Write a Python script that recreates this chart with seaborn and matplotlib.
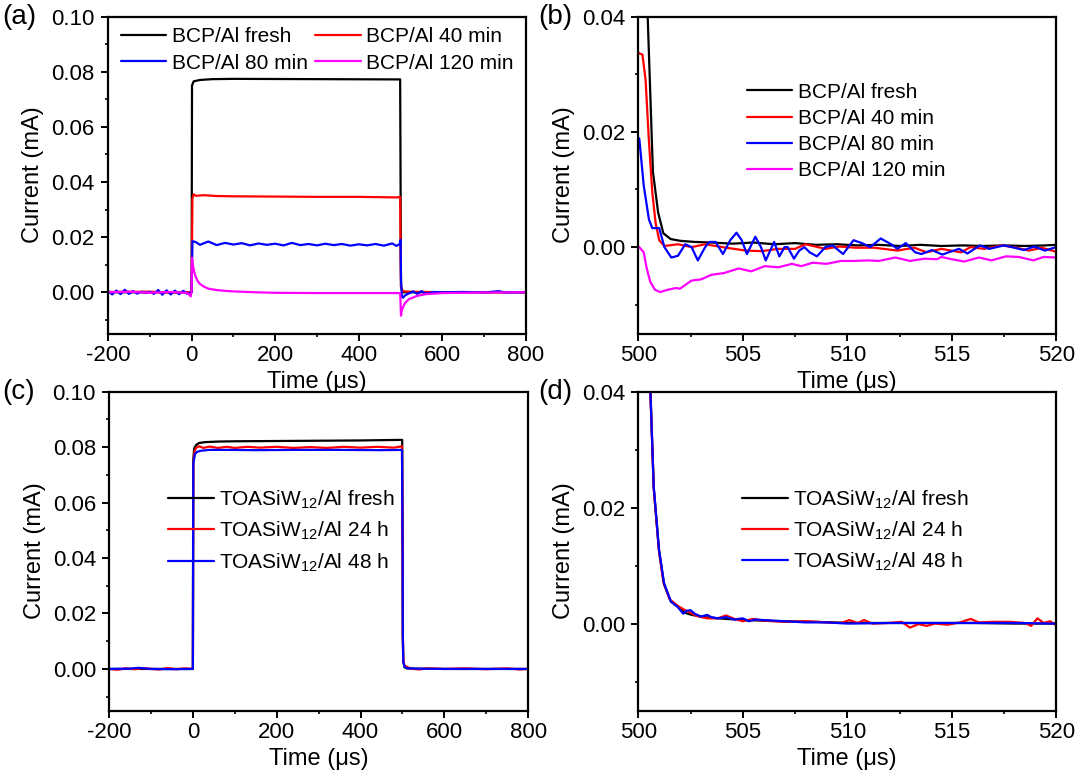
import matplotlib
matplotlib.use("Agg")
import matplotlib.pyplot as plt
from matplotlib.ticker import MultipleLocator, FormatStrFormatter
import pandas as pd
import seaborn as sns

# ---- panel (a): BCP/Al, full pulse ----
labels_bcp = ['BCP/Al fresh', 'BCP/Al 40 min', 'BCP/Al 80 min', 'BCP/Al 120 min']
colors_bcp = ['#000000', '#FF0000', '#0000FF', '#FF00FF']

ta_fresh = [-200, -100, 0, 1, 5, 20, 50, 100, 300, 499, 500, 501, 505, 800]
ia_fresh = [0.0, 0.0, 0.0, 0.075, 0.0765, 0.077, 0.0773, 0.0774, 0.0773, 0.0772, 0.04, 0.002, 0.0, 0.0]

ta_40 = [-200, -100, -50, 0, 2, 5, 10, 30, 60, 100, 200, 300, 400, 490, 499, 500, 501, 505, 520, 600, 800]
ia_40 = [0.0001, 0.0002, -0.0001, 0.0, 0.034, 0.0355, 0.035, 0.0352, 0.0349, 0.0348, 0.0347, 0.0346,
         0.0346, 0.0344, 0.0346, 0.015, 0.002, 0.0004, 0.0002, 0.0, 0.0]

ta_80 = [-200, -190, -180, -170, -160, -150, -140, -130, -120, -110, -100, -90, -80, -70, -60, -50, -40,
         -30, -20, -10, 0, 2, 10, 20, 40, 60, 80, 100, 120, 140, 160, 180, 200, 220, 240, 260, 280, 300,
         320, 340, 360, 380, 400, 420, 440, 460, 480, 490, 498, 500, 501, 503, 506, 510, 520, 530, 540,
         550, 560, 580, 600, 650, 700, 735, 750, 800]
ia_80 = [0.0005, -0.0008, 0.0006, -0.0007, 0.0009, -0.0006, 0.0004, -0.0005, 0.0002, -0.0003, 0.0001,
         -0.0006, 0.0008, -0.0009, 0.0007, -0.0008, 0.0006, -0.0007, 0.0005, -0.0006,
         0.0, 0.0185, 0.0182, 0.0172,
         0.0184, 0.0171, 0.0179, 0.0173, 0.0178, 0.0170, 0.0177, 0.0172, 0.0176, 0.0170, 0.0179, 0.0171,
         0.0175, 0.0170, 0.0176, 0.0171, 0.0175, 0.0169, 0.0174, 0.0170, 0.0175, 0.0169, 0.0177,
         0.0168, 0.0175,
         0.019, 0.005, -0.0015, -0.002, -0.0012, -0.0004, 0.0003, -0.0006, 0.0004, -0.0005,
         0.0001, 0.0, 0.0001, -0.0001, 0.0004, -0.0001, 0.0]

ta_120 = [-200, -150, -100, -50, -10, -2, 0, 1, 3, 6, 10, 15, 20, 30, 40, 60, 80, 100, 150, 200, 300,
          400, 499, 500, 501, 503, 510, 520, 540, 560, 600, 700, 800]
ia_120 = [0.0, 0.0002, -0.0002, 0.0001, -0.0002, -0.0015, 0.0005, 0.0125, 0.010, 0.0075, 0.0055, 0.004,
          0.003, 0.002, 0.0013, 0.0008, 0.0005, 0.0003, 0.0, -0.0002, -0.0003, -0.0003, -0.0003, -0.004,
          -0.0085, -0.0065, -0.004, -0.0025, -0.0013, -0.0007, -0.0003, -0.0001, 0.0]

# ---- panel (b): BCP/Al, falling edge ----
tb_fresh = [500.0, 500.2, 500.35, 500.45, 500.7, 500.95, 501.2, 501.55, 502.0, 502.7, 503.5, 504.5, 505.5,
            506.5, 507.5, 508.5, 509.5, 510.5, 511.5, 512.5, 513.5, 514.5, 515.5, 516.5, 517.5, 518.5,
            519.5, 520]
ib_fresh = [0.077, 0.066, 0.05, 0.04, 0.0131, 0.006, 0.0024, 0.0014, 0.0011, 0.0009, 0.0008, 0.0006,
            0.0008, 0.0005, 0.0007, 0.0004, 0.0005, 0.0003, 0.0004, 0.0002, 0.0004, 0.0002, 0.0003,
            0.0002, 0.0003, 0.0002, 0.0003, 0.0004]

tb_40 = [500.0, 500.05, 500.2, 500.35, 500.5, 500.67, 500.83, 501.0, 501.25, 501.9, 502.55, 503.2, 504.2,
         505.15, 505.9, 506.7, 507.5, 508.0, 508.95, 509.6, 510.4, 511.3, 512.4, 513.2, 513.8, 514.5,
         515.45, 515.9, 516.55, 517.4, 518.1, 518.7, 519.3, 520]
ib_40 = [0.0338, 0.0336, 0.0334, 0.029, 0.019, 0.0095, 0.0042, 0.0012, 0.0002, 0.0005, 0.0, 0.0005,
         -0.0001, -0.0006, -0.0007, -0.0003, -0.0003, 0.0005, -0.0003, 0.0001, -0.0001, -0.0001, -0.0006,
         -0.0001, -0.0009, -0.0003, -0.0009, 0.0, -0.0003, 0.0003, -0.0001, -0.0006, -0.0001, -0.0008]

tb_80 = [500.0, 500.05, 500.26, 500.51, 500.67, 501.0, 501.25, 501.58, 501.9, 502.25, 502.55, 502.85,
         503.2, 503.4, 503.7, 504.05, 504.4, 504.7, 504.95, 505.2, 505.6, 505.87, 506.1, 506.5, 506.75,
         507.0, 507.15, 507.45, 507.7, 507.95, 508.2, 508.55, 508.95, 509.3, 509.8, 510.3, 510.7, 511.1,
         511.6, 512.1, 512.4, 512.8, 513.25, 513.55, 514.05, 514.55, 514.85, 515.35, 515.75, 516.35,
         516.8, 517.5, 518.0, 518.45, 518.95, 519.45, 520]
ib_80 = [0.019, 0.0188, 0.0107, 0.0048, 0.0033, 0.0033, 0.0, -0.0018, -0.0015, 0.0005, 0.0, -0.0023,
         0.0, 0.0009, 0.0009, -0.0012, 0.0012, 0.0025, 0.0012, -0.0012, 0.0018, 0.0, -0.0023, 0.0009,
         -0.0016, 0.0, 0.0, -0.002, -0.0006, 0.0, -0.0009, -0.0016, 0.0, 0.0003, -0.0012, 0.0012, 0.0007,
         0.0, 0.0015, 0.0005, -0.0003, 0.0007, -0.0009, -0.0012, -0.0005, -0.0013, -0.0009, -0.0003,
         -0.0011, 0.0003, -0.0003, 0.0003, -0.0001, -0.0005, 0.0001, -0.0006, 0.0]

tb_120 = [500.0, 500.05, 500.26, 500.4, 500.57, 500.8, 501.05, 501.4, 501.8, 502.0, 502.55, 503.0, 503.5,
          504.1, 504.8, 505.4, 506.05, 506.7, 507.35, 507.8, 508.35, 509.0, 509.7, 510.3, 511.0, 511.5,
          512.3, 513.0, 513.7, 514.3, 514.5, 515.0, 515.6, 516.3, 516.9, 517.6, 518.2, 518.9, 519.4, 520]
ib_120 = [0.0, 0.0, -0.0009, -0.0036, -0.006, -0.0074, -0.0078, -0.0074, -0.0071, -0.0072, -0.0058,
          -0.0056, -0.0048, -0.0045, -0.0037, -0.0042, -0.0033, -0.0035, -0.0029, -0.0033, -0.0027,
          -0.0029, -0.0024, -0.0024, -0.0023, -0.0024, -0.0018, -0.0024, -0.002, -0.0021, -0.0017,
          -0.0021, -0.0025, -0.0018, -0.0023, -0.0016, -0.0017, -0.0023, -0.0017, -0.0018]

# ---- panel (c): TOASiW12/Al, full pulse ----
labels_toa = [r'TOASiW$_{\mathregular{12}}$/Al fresh', r'TOASiW$_{\mathregular{12}}$/Al 24 h',
              r'TOASiW$_{\mathregular{12}}$/Al 48 h']
colors_toa = ['#000000', '#FF0000', '#0000FF']

tc_fresh = [-200, -100, 0, 0.8, 3, 8, 15, 30, 60, 100, 200, 300, 400, 495, 499.5, 500.6, 501, 502, 505,
            510, 530, 600, 800]
ic_fresh = [0, 0, 0, 0.075, 0.0795, 0.0808, 0.0815, 0.0818, 0.082, 0.0821, 0.0822, 0.0823, 0.0824,
            0.0826, 0.0826, 0.04, 0.0127, 0.003, 0.0006, 0.0002, 0.0001, 0, 0]

tc_24 = [-200, -180, -160, -140, -120, -100, -80, -60, -40, -20, -1, 0, 1, 4, 8, 15, 25, 40, 60, 80, 100,
         130, 160, 200, 240, 280, 320, 360, 400, 440, 480, 499, 500.6, 501, 502, 505, 510, 520, 540, 560,
         600, 650, 700, 750, 780, 800]
ic_24 = [0.0, -0.0003, 0.0002, -0.0001, 0.0003, 0.0, -0.0002, 0.0003, -0.0001, 0.0002, 0.0, 0.0, 0.074,
         0.0785, 0.0798, 0.0803, 0.0797, 0.0802, 0.0797, 0.0801, 0.0797, 0.0801, 0.0798, 0.0801, 0.0797,
         0.08, 0.0797, 0.0801, 0.0798, 0.0801, 0.0798, 0.0803, 0.04, 0.0125, 0.003, 0.0012, 0.0008,
         0.0001, -0.0002, 0.0002, 0.0, 0.0002, -0.0001, 0.0002, -0.0002, 0.0]

tc_48 = [-200, -150, -130, -100, -50, -1, 0, 1, 5, 10, 20, 40, 80, 150, 250, 350, 450, 499, 500.6, 501,
         502, 505, 510, 530, 600, 800]
ic_48 = [0, 0.0001, 0.0004, 0.0, -0.0001, 0.0, 0.0, 0.074, 0.0775, 0.0783, 0.0787, 0.079, 0.079, 0.0789,
         0.079, 0.079, 0.0789, 0.079, 0.04, 0.0125, 0.0025, 0.0009, 0.0003, 0.0001, 0.0, 0.0]

# ---- panel (d): TOASiW12/Al, falling edge ----
td_fresh = [500, 500.3, 500.58, 500.74, 500.99, 501.23, 501.56, 501.9, 502.2, 502.55, 503.2, 504.2,
            505.2, 506.85, 508.5, 510.2, 512, 514, 516, 518, 520]
id_fresh = [0.082, 0.062, 0.04, 0.0234, 0.0127, 0.0068, 0.0038, 0.003, 0.0019, 0.0015, 0.0011, 0.0008,
            0.0006, 0.0004, 0.0003, 0.0001, 0.0001, 0.0001, 0.0001, 0.0, 0.0]

td_24 = [500, 500.3, 500.58, 500.74, 500.99, 501.2, 501.5, 501.9, 502.3, 502.8, 503.3, 503.8, 504.2,
         504.6, 505.0, 505.5, 506, 507, 508, 509, 509.7, 510.1, 510.5, 510.8, 511.2, 512, 512.6, 513.0,
         513.4, 513.8, 514.2, 514.8, 515.4, 515.9, 516.3, 517, 517.8, 518.5, 518.8, 519.1, 519.4, 519.7, 520]
id_24 = [0.08, 0.061, 0.04, 0.0232, 0.0125, 0.0072, 0.0042, 0.003, 0.0022, 0.0013, 0.0009, 0.0009,
         0.0014, 0.0008, 0.0004, 0.0008, 0.0005, 0.0003, 0.0004, 0.0002, 0.0001, 0.0006, 0.0001, 0.0006,
         0.0, 0.0001, 0.0003, -0.0007, -0.0001, -0.0004, 0.0, -0.0002, 0.0002, 0.0008, 0.0002, 0.0003,
         0.0003, 0.0001, -0.0004, 0.0009, 0.0001, 0.0004, -0.0003]

td_48 = [500, 500.3, 500.58, 500.74, 500.99, 501.23, 501.56, 501.9, 502.15, 502.3, 502.5, 502.7, 503.0,
         503.3, 503.5, 503.8, 504.2, 504.6, 505.0, 505.3, 505.6, 506, 507, 508, 509, 510, 512, 514, 516,
         518, 520]
id_48 = [0.081, 0.061, 0.04, 0.0236, 0.0128, 0.007, 0.0038, 0.0028, 0.0017, 0.0022, 0.0023, 0.0017,
         0.0012, 0.0015, 0.0011, 0.0009, 0.0011, 0.0007, 0.0009, 0.0004, 0.0007, 0.0006, 0.0004, 0.0002,
         0.0002, 0.0, 0.0001, 0.0001, 0.0001, 0.0001, 0.0]


def make_frame(times, values, labels):
    parts = []
    for t, v, lab in zip(times, values, labels):
        parts.append(pd.DataFrame({'Time': t, 'Current': v, 'Sample': lab}))
    return pd.concat(parts, ignore_index=True)


df_a = make_frame([ta_fresh, ta_40, ta_80, ta_120], [ia_fresh, ia_40, ia_80, ia_120], labels_bcp)
df_b = make_frame([tb_fresh, tb_40, tb_80, tb_120], [ib_fresh, ib_40, ib_80, ib_120], labels_bcp)
df_c = make_frame([tc_fresh, tc_24, tc_48], [ic_fresh, ic_24, ic_48], labels_toa)
df_d = make_frame([td_fresh, td_24, td_48], [id_fresh, id_24, id_48], labels_toa)

sns.set_style('ticks')
plt.rcParams['font.family'] = ['Liberation Sans', 'DejaVu Sans']
plt.rcParams['mathtext.fontset'] = 'custom'
plt.rcParams['mathtext.rm'] = 'Liberation Sans'
plt.rcParams['axes.unicode_minus'] = False
plt.rcParams['axes.linewidth'] = 1.6
for key in ['text.color', 'axes.labelcolor', 'xtick.color', 'ytick.color', 'axes.edgecolor']:
    plt.rcParams[key] = 'black'
plt.rcParams['xtick.direction'] = 'out'
plt.rcParams['ytick.direction'] = 'out'

fig = plt.figure(figsize=(10.8, 7.74), dpi=100)
ax_a = fig.add_axes([0.100, 0.569, 0.387, 0.4096])
ax_b = fig.add_axes([0.591, 0.569, 0.387, 0.4096])
ax_c = fig.add_axes([0.101, 0.082, 0.388, 0.412])
ax_d = fig.add_axes([0.591, 0.082, 0.387, 0.412])

panels = [
    (ax_a, df_a, labels_bcp, colors_bcp, (-200, 800), (-0.015, 0.10), 200, 100, '(a)', (2, 16.5)),
    (ax_b, df_b, labels_bcp, colors_bcp, (500, 520), (-0.015, 0.04), 5, 2.5, '(b)', (538, 16.5)),
    (ax_c, df_c, labels_toa, colors_toa, (-200, 800), (-0.015, 0.10), 200, 100, '(c)', (2, 392)),
    (ax_d, df_d, labels_toa, colors_toa, (500, 520), (-0.015, 0.04), 5, 2.5, '(d)', (538, 392)),
]

for ax, df, labs, cols, xlim, ylim, xmaj, xmin, tag, tagpos in panels:
    sns.lineplot(data=df, x='Time', y='Current', hue='Sample', hue_order=labs,
                 palette=dict(zip(labs, cols)), estimator=None, sort=False, lw=1.6, ax=ax)
    ax.set_xlim(*xlim)
    ax.set_ylim(*ylim)
    ax.xaxis.set_major_locator(MultipleLocator(xmaj))
    ax.xaxis.set_minor_locator(MultipleLocator(xmin))
    ax.yaxis.set_major_locator(MultipleLocator(0.02))
    ax.yaxis.set_minor_locator(MultipleLocator(0.01))
    ax.yaxis.set_major_formatter(FormatStrFormatter('%.2f'))
    ax.tick_params(which='major', length=5, width=1.4, labelsize=16, pad=4.5)
    ax.tick_params(which='minor', length=2.5, width=1.2)
    ax.tick_params(axis='x', which='major', pad=3.5)
    ax.set_xlabel('Time (μs)', fontsize=17, labelpad=3)
    ax.set_ylabel('Current (mA)', fontsize=17, labelpad=5)
    for s in ax.spines.values():
        s.set_visible(True)
        s.set_linewidth(1.6)
    fig.text(tagpos[0] / 1080, 1 - tagpos[1] / 774, tag, fontsize=20, ha='left', va='center')

    leg = ax.get_legend()
    handles = leg.legend_handles
    texts = [t.get_text() for t in leg.get_texts()]
    leg.remove()
    if ax is ax_a:
        order = [0, 2, 1, 3]
        ax.legend([handles[i] for i in order], [texts[i] for i in order], ncol=2,
                  loc='upper left', bbox_to_anchor=(0.03, 0.966), frameon=False, fontsize=15,
                  handlelength=2.2, handletextpad=0.25, columnspacing=0.35, labelspacing=0.35,
                  borderpad=0, borderaxespad=0)
    else:
        anchor = {ax_b: (0.259, 0.792), ax_c: (0.14, 0.697), ax_d: (0.249, 0.698)}[ax]
        spacing = 0.35 if ax is ax_b else 0.42
        ax.legend(handles, texts, loc='upper left', bbox_to_anchor=anchor, frameon=False,
                  fontsize=15, handlelength=2.2, handletextpad=0.25, labelspacing=spacing,
                  borderpad=0, borderaxespad=0)

fig.savefig('out.png', dpi=100)
